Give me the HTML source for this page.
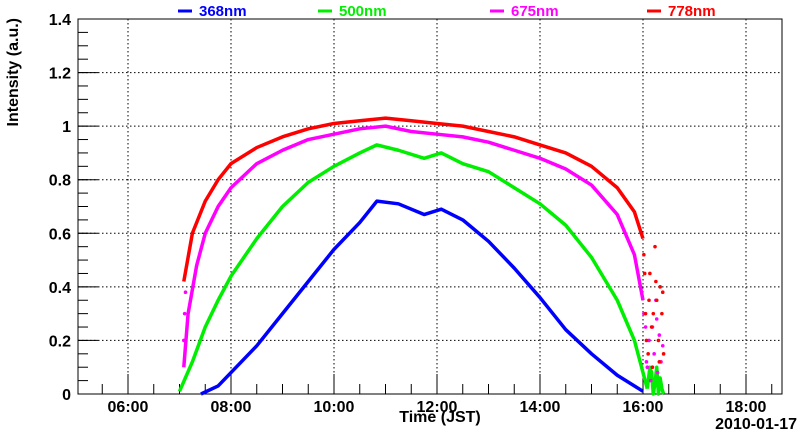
<!DOCTYPE html>
<html><head><meta charset="utf-8"><style>
body{margin:0;background:#fff;}
svg{font-family:"Liberation Sans",sans-serif;font-weight:bold;}
</style></head><body>
<svg id="chart" width="800" height="434"></svg>
<script>
const seriesNames=["368nm","500nm","675nm","778nm"];
const seriesColors=["#0000ff","#00ee00","#ff00ff","#ff0000"];
const tBlue=["07:25","07:45","08:00","08:30","09:00","09:30","10:00","10:30","10:50","11:15","11:45","12:05","12:30","13:00","13:30","14:00","14:30","15:00","15:30","16:00"];
const vBlue=[0.0,0.03,0.08,0.18,0.3,0.42,0.54,0.64,0.72,0.71,0.67,0.69,0.65,0.57,0.47,0.36,0.24,0.15,0.07,0.01];
const tGreen=["07:00","07:15","07:30","07:45","08:00","08:30","09:00","09:30","10:00","10:30","10:50","11:15","11:45","12:05","12:30","13:00","13:30","14:00","14:30","15:00","15:30","15:50","16:00","16:05"];
const vGreen=[0.01,0.12,0.25,0.35,0.44,0.58,0.7,0.79,0.85,0.9,0.93,0.91,0.88,0.9,0.86,0.83,0.77,0.71,0.63,0.51,0.35,0.2,0.08,0.02];
const tMag=["07:05","07:10","07:20","07:30","07:45","08:00","08:30","09:00","09:30","10:00","10:30","11:00","11:30","12:00","12:30","13:00","13:30","14:00","14:30","15:00","15:30","15:50","16:00"];
const vMag=[0.1,0.3,0.48,0.6,0.7,0.77,0.86,0.91,0.95,0.97,0.99,1.0,0.98,0.97,0.96,0.94,0.91,0.88,0.84,0.78,0.67,0.52,0.35];
const tRed=["07:05","07:15","07:30","07:45","08:00","08:30","09:00","09:30","10:00","10:30","11:00","11:30","12:00","12:30","13:00","13:30","14:00","14:30","15:00","15:30","15:50","16:00"];
const vRed=[0.42,0.6,0.72,0.8,0.86,0.92,0.96,0.99,1.01,1.02,1.03,1.02,1.01,1.0,0.98,0.96,0.93,0.9,0.85,0.77,0.68,0.58];
const tRedDots=["16:01","16:02","16:03","16:04","16:06","16:07","16:08","16:10","16:11","16:12","16:14","16:15","16:16","16:18","16:19","16:20","16:22","16:23","16:24"];
const vRedDots=[0.52,0.45,0.3,0.2,0.15,0.35,0.45,0.25,0.1,0.3,0.55,0.42,0.35,0.2,0.12,0.4,0.3,0.38,0.15];
const tMagDots=["16:01","16:03","16:04","16:05","16:07","16:09","16:11","16:13","16:15","16:16","16:17","16:19","16:21","16:23"];
const vMagDots=[0.3,0.25,0.12,0.1,0.2,0.05,0.25,0.15,0.35,0.28,0.08,0.22,0.12,0.18];
const tGreenTail=["16:05","16:08","16:10","16:12","16:14","16:16","16:18","16:20","16:22","16:24"];
const vGreenTail=[0.02,0.1,0.08,0.0,0.04,0.1,0.0,0.06,0.02,0.0];
const xTicks=["06:00","08:00","10:00","12:00","14:00","16:00","18:00"];
const yTicks=[0,0.2,0.4,0.6,0.8,1,1.2,1.4];

const L=78,R=782,T=19,B=394;
const h=s=>{const p=s.split(":");return +p[0]+p[1]/60;};
const X=t=>128+(h(t)-6)*51.5;
const Xh=v=>128+(v-6)*51.5;
const Y=v=>B-v/1.4*(B-T);
const svg=document.getElementById('chart');
const NS="http://www.w3.org/2000/svg";
function mk(tag,a,parent){const e=document.createElementNS(NS,tag);for(const k in a)e.setAttribute(k,a[k]);(parent||svg).appendChild(e);return e;}
xTicks.forEach(t=>{const g=mk('line',{x1:X(t),x2:X(t),y1:T,y2:B,stroke:'#000','stroke-dasharray':'1.5,2.5','stroke-width':1});


const tx=mk('text',{x:X(t),y:412,'text-anchor':'middle','font-size':16});tx.textContent=t;

});
yTicks.forEach(v=>{if(v>0&&v<1.4){const g=mk('line',{x1:L,x2:R,y1:Y(v),y2:Y(v),stroke:'#000','stroke-dasharray':'1.5,2.5','stroke-width':1});

}
mk('line',{x1:L,x2:L+20,y1:Y(v),y2:Y(v),stroke:'#000'});
const tx=mk('text',{x:71,y:Y(v)+6,'text-anchor':'end','font-size':16});tx.textContent=String(v);

});
for(let v=0.05;v<1.4;v+=0.05){mk('line',{x1:L,x2:L+10,y1:Y(v),y2:Y(v),stroke:'#000'});}
for(let hh=5.5;hh<=18.7;hh+=0.5){const x=Xh(hh);if(x>L&&x<R)mk('line',{x1:x,x2:x,y1:B,y2:B-(Math.abs(hh-Math.round(hh/2)*2)<0.01?20:10),stroke:'#000'});}
const frame=mk('rect',{x:L,y:T,width:R-L,height:B-T,fill:'none',stroke:'#000'});


function line(ts,vs,c,name){const p=mk('polyline',{points:ts.map((t,i)=>X(t)+','+Y(vs[i])).join(' '),fill:'none',stroke:c,'stroke-width':3.5,'stroke-linejoin':'round'});

}
function dots(ts,vs,c,name){const g=mk('g',{});


ts.forEach((t,i)=>mk('circle',{cx:X(t),cy:Y(vs[i]),r:1.8,fill:c},g));}
line(tBlue,vBlue,seriesColors[0],'series-368nm');
line(tGreen,vGreen,seriesColors[1],'series-500nm');
line(tGreenTail,vGreenTail,seriesColors[1],'series-500nm-tail');
line(tMag,vMag,seriesColors[2],'series-675nm');
line(tRed,vRed,seriesColors[3],'series-778nm');
dots(tMagDots,vMagDots,seriesColors[2],'series-675nm-dots');
dots(tRedDots,vRedDots,seriesColors[3],'series-778nm-dots');
dots(["07:05","07:06","07:07"],[0.2,0.3,0.38],seriesColors[2],'series-675nm-start');
const lx=[178,318,490,647];
seriesNames.forEach((n,i)=>{const g=mk('g',{});


mk('line',{x1:lx[i],x2:lx[i]+14,y1:11,y2:11,stroke:seriesColors[i],'stroke-width':3},g);
const t=mk('text',{x:lx[i]+21,y:16,fill:seriesColors[i],'font-size':15},g);t.textContent=n;});
const xt=mk('text',{x:440,y:422,'text-anchor':'middle','font-size':16});xt.textContent="Time (JST)";


const dt=mk('text',{x:797,y:429,'text-anchor':'end','font-size':16});dt.textContent="2010-01-17";


const yt=mk('text',{x:0,y:0,'text-anchor':'end','font-size':16,transform:'translate(18,18) rotate(-90)'});yt.textContent="Intensity (a.u.)";


</script>
</body></html>
